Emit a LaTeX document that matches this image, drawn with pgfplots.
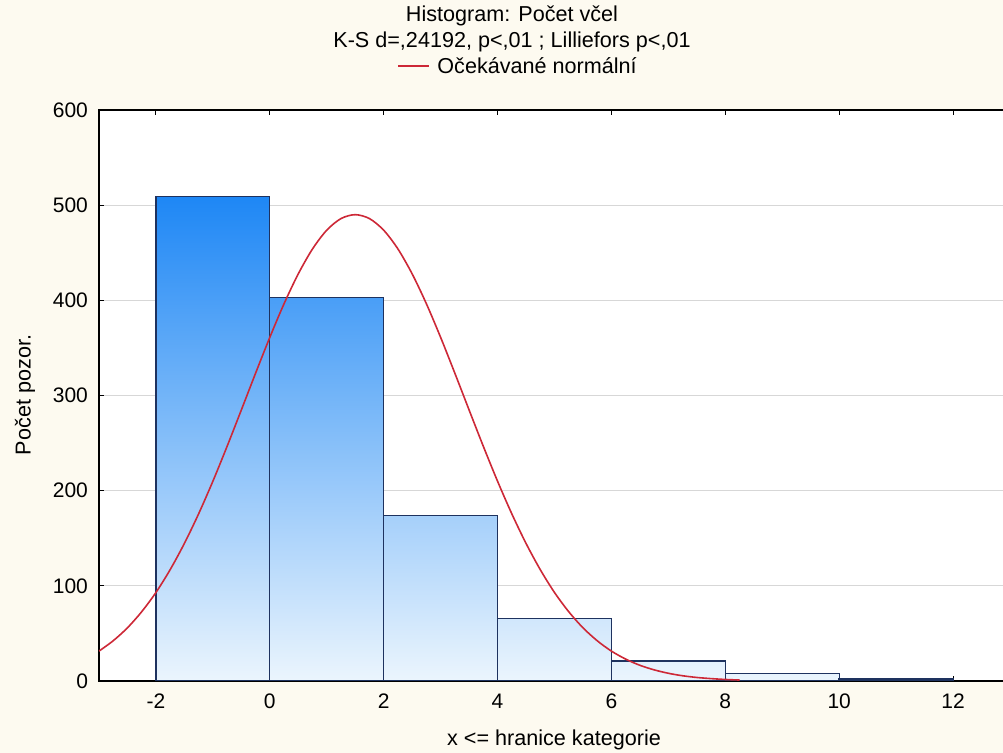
\documentclass[border=0pt]{standalone}
\usepackage{pgfplots}
\pgfplotsset{compat=1.18}
\usepackage{fontspec}
\setmainfont{Liberation Sans}
\definecolor{cream}{RGB}{253,250,240}
\definecolor{bdark}{RGB}{30,135,245}
\definecolor{blight}{RGB}{235,245,253}
\definecolor{bedge}{RGB}{30,50,95}
\definecolor{curve}{RGB}{205,40,55}
\definecolor{gridc}{RGB}{215,215,215}
\begin{document}
\begin{tikzpicture}
\fill[cream] (-49.5pt,-36pt) rectangle (452pt,340.5pt);
\begin{axis}[
  at={(0,0)}, anchor=south west,
  scale only axis, width=455.5pt, height=285.5pt,
  xmin=-3, xmax=13, ymin=0, ymax=600,
  xtick={-2,0,...,12}, ytick={0,100,...,600},
  axis background/.style={fill=white},
  ymajorgrids, major grid style={gridc, line width=0.6pt},
  tick align=inside, major tick length=2.5pt,
  xtick pos=both, ytick pos=left,
  tick style={black, line width=0.5pt},
  axis line style={black, line width=0.8pt},
  font=\fontsize{10.5}{12}\selectfont,
  /pgf/number format/assume math mode=true,
  xticklabel style={yshift=-3pt},
  yticklabel style={xshift=-2pt},
  clip=true,
]
\addplot[ybar interval, draw=bedge, line width=0.6pt, top color=bdark, bottom color=blight] coordinates {(-2,509) (0,509)};
\addplot[ybar interval, draw=bedge, line width=0.6pt, top color=bdark!79!blight, bottom color=blight] coordinates {(0,403) (2,403)};
\addplot[ybar interval, draw=bedge, line width=0.6pt, top color=bdark!34!blight, bottom color=blight] coordinates {(2,174) (4,174)};
\addplot[ybar interval, draw=bedge, line width=0.6pt, top color=bdark!13!blight, bottom color=blight] coordinates {(4,66) (6,66)};
\addplot[ybar interval, draw=bedge, line width=0.6pt, top color=bdark!4!blight, bottom color=blight] coordinates {(6,21) (8,21)};
\addplot[ybar interval, draw=bedge, line width=0.6pt, top color=bdark!2!blight, bottom color=blight] coordinates {(8,8) (10,8)};
\addplot[ybar interval, draw=bedge, line width=0.8pt, fill=blight] coordinates {(10,2) (12,2)};
\addplot[curve, line width=0.8pt, smooth, no markers] coordinates {
(-3,31.4) (-2.75,42.3) (-2.5,55.9) (-2.25,72.8) (-2,93.0) (-1.75,117.0) (-1.5,144.6) (-1.25,175.7)
(-1,209.9) (-0.75,246.6) (-0.5,284.8) (-0.25,323.4) (0,361.1) (0.25,396.4) (0.5,427.8) (0.75,454.0)
(1,473.7) (1.25,485.9) (1.5,490) (1.75,485.9) (2,473.7) (2.25,454.0) (2.5,427.8) (2.75,396.4)
(3,361.1) (3.25,323.4) (3.5,284.8) (3.75,246.6) (4,209.9) (4.25,175.7) (4.5,144.6) (4.75,117.0)
(5,93.0) (5.25,72.8) (5.5,55.9) (5.75,42.3) (6,31.4) (6.25,23.0) (6.5,16.5) (6.75,11.7)
(7,8.1) (7.25,5.5) (7.5,3.7) (7.75,2.5) (8,1.6) (8.25,1.0)
};
\end{axis}
\begin{scope}[font=\fontsize{10.8}{12}\selectfont]
\node at (206.5pt,332.5pt) {Histogram: Počet včel};
\node at (206.5pt,319.5pt) {K-S d=,24192, p<,01 ; Lilliefors p<,01};
\draw[curve, line width=0.8pt] (149.5pt,307.5pt) -- (165pt,307.5pt);
\node[anchor=west, inner sep=0pt] at (169pt,307.5pt) {Očekávané normální};
\node[rotate=90] at (-37pt,143pt) {Počet pozor.};
\node at (227.5pt,-29.5pt) {x <= hranice kategorie};
\end{scope}
\pgfresetboundingbox
\useasboundingbox (-49.5pt,-36pt) rectangle (452pt,340.5pt);
\end{tikzpicture}
\end{document}
